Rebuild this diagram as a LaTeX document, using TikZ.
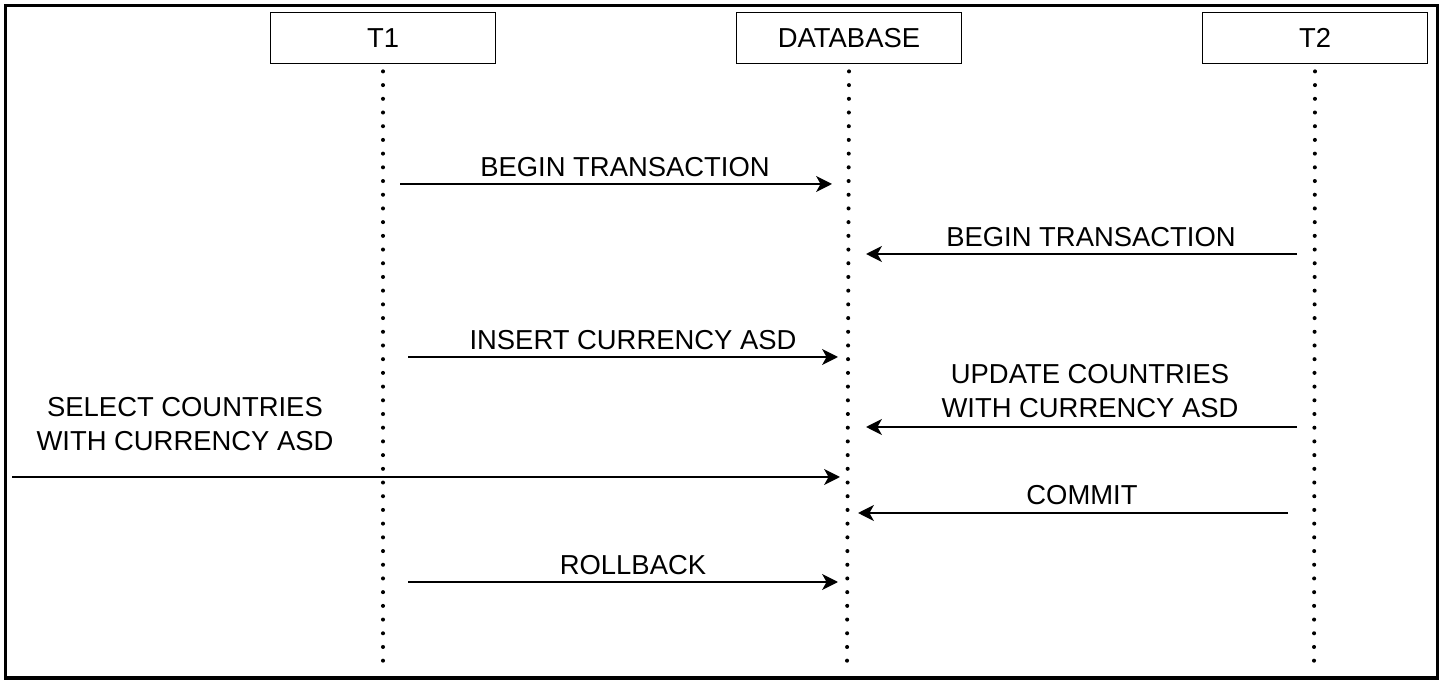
\documentclass[tikz,border=0pt]{standalone}
\usepackage{fontspec}
\setmainfont{Liberation Sans}
\usetikzlibrary{arrows.meta,positioning}
\newcommand{\msgfont}{\fontsize{15.6}{19.3}\selectfont}
\tikzstyle{actor} = [rectangle, draw=black, line width=1pt, minimum width=4.5cm, minimum height=1.02cm, font=\msgfont]
\tikzstyle{lifeline} = [line width=2.3pt, line cap=round, dash pattern=on 0pt off 7.8pt]
\tikzstyle{arrow} = [line width=1.3pt, -{Stealth[length=9pt,width=9pt,inset=2.5pt]}]
\tikzstyle{msg} = [font=\msgfont, align=center, inner sep=0pt]

\begin{document}
\begin{tikzpicture}[x=0.02cm,y=-0.02cm]
\useasboundingbox (0,0) rectangle (1444,685);
\draw[line width=1.8pt] (5.5,5.5) rectangle (1437.5,678);
 \node (t1) [actor] at (383,38) {T1};
 \node (db) [actor] at (849,38) {DATABASE};
 \node (t2) [actor] at (1315,38) {T2};
\coordinate (t1end) at (383,662);
\coordinate (dbend) at (847,668);
\coordinate (t2end) at (1314,664);
\draw [lifeline] ([yshift=-4pt]t1.south) -- (t1end);
\draw [lifeline] ([yshift=-4pt]db.south) -- (dbend);
\draw [lifeline] ([yshift=-4pt]t2.south) -- (t2end);
% messages
\coordinate (b1s) at (400,184);
\coordinate (b1e) at (832,184);
\coordinate (b2s) at (1297,254);
\coordinate (b2e) at (866,254);
\coordinate (ins) at (408,357);
\coordinate (ine) at (838,357);
\coordinate (ups) at (1297,427);
\coordinate (upe) at (866,427);
\coordinate (sels) at (12,477);
\coordinate (sele) at (840,477);
\coordinate (cms) at (1288,513);
\coordinate (cme) at (858,513);
\coordinate (rbs) at (408,582);
\coordinate (rbe) at (838,582);
\draw [arrow] (b1s) -- (b1e);
\draw [arrow] (b2s) -- (b2e);
\draw [arrow] (ins) -- (ine);
\draw [arrow] (ups) -- (upe);
\draw [arrow] (sels) -- (sele);
\draw [arrow] (cms) -- (cme);
\draw [arrow] (rbs) -- (rbe);
\node (l1) [msg] at (625,167) {BEGIN TRANSACTION};
\node (l2) [msg] at (1091,237) {BEGIN TRANSACTION};
\node (l3) [msg] at (633,340) {INSERT CURRENCY ASD};
\node (l4) [msg] at (1090,391) {UPDATE COUNTRIES\\WITH CURRENCY ASD};
\node (l5) [msg] at (185,424) {SELECT COUNTRIES\\WITH CURRENCY ASD};
\node (l6) [msg] at (1082,495) {COMMIT};
\node (l7) [msg] at (633,565) {ROLLBACK};
\end{tikzpicture}
\end{document}
